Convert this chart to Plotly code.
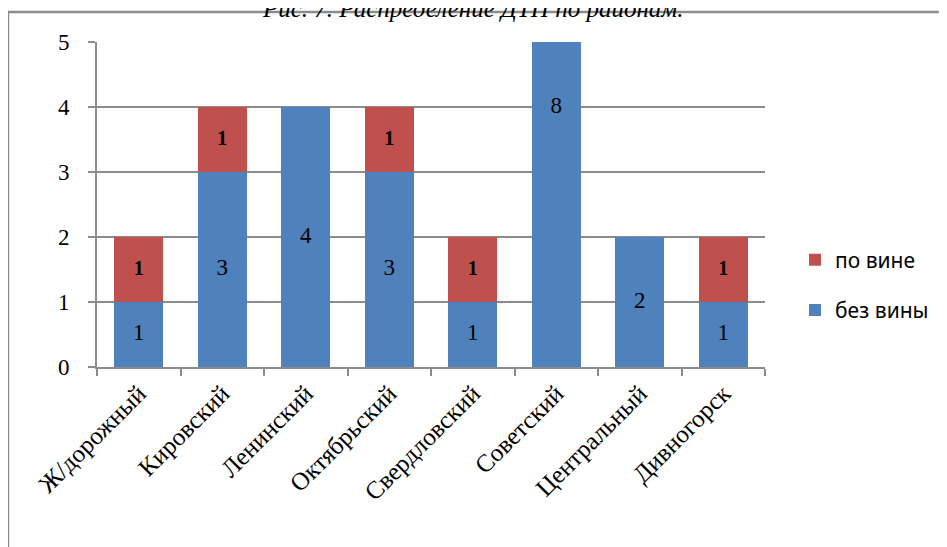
import plotly.graph_objects as go

categories = ["Ж/дорожный", "Кировский", "Ленинский", "Октябрьский",
              "Свердловский", "Советский", "Центральный", "Дивногорск"]
bez_viny = [1, 3, 4, 3, 1, 8, 2, 1]
po_vine = [1, 1, 0, 1, 1, 0, 0, 1]
y_ticks = [0, 1, 2, 3, 4, 5]
title_text = "Рис. 7. Распределение ДТП по районам."

BLUE = "#4F81BD"
RED = "#C0504D"
GRID = "#8C8C8C"
SERIF = "Liberation Serif, Times New Roman, serif"

OFF = 8  # page body margin
W, H = 947 - OFF, 547 - OFF
L, T = 97 - OFF, 42 - OFF
pw, ph = 668, 325
R, B = W - L - pw, H - T - ph

fig = go.Figure()
fig.add_trace(go.Bar(x=categories, y=bez_viny, name="без вины",
                     marker=dict(color=BLUE, line=dict(width=0)),
                     legendrank=2, legendgroup="b"))
fig.add_trace(go.Bar(x=categories, y=po_vine, name="по вине",
                     marker=dict(color=RED, line=dict(width=0)),
                     legendrank=1, legendgroup="a"))

# data labels
fig.add_trace(go.Scatter(
    x=categories, y=[v / 2 for v in bez_viny], mode="text",
    text=[str(v) if v else "" for v in bez_viny],
    textfont=dict(family=SERIF, size=23, color="black"),
    showlegend=False, hoverinfo="skip", cliponaxis=False))
fig.add_trace(go.Scatter(
    x=categories, y=[b + r / 2 for b, r in zip(bez_viny, po_vine)], mode="text",
    text=["<b>%d</b>" % r if r else "" for r in po_vine],
    textfont=dict(family=SERIF, size=20, color="black"),
    showlegend=False, hoverinfo="skip", cliponaxis=False))

# convert reference-screen pixels to paper coords
def px_x(x):
    return (x - OFF - L) / pw

def px_y(y):
    return (T + ph - (y - OFF)) / ph

fig.update_layout(
    width=W, height=H,
    margin=dict(l=L, r=R, t=T, b=B, pad=0),
    paper_bgcolor="white", plot_bgcolor="white",
    barmode="stack", bargap=0.41,
    showlegend=True,
    legend=dict(x=px_x(795), y=px_y(285), xanchor="left", yanchor="middle",
                traceorder="grouped", tracegroupgap=20,
                font=dict(family="Noto Sans, Open Sans, sans-serif", size=21, color="black"),
                itemwidth=30, bgcolor="rgba(0,0,0,0)"),
    xaxis=dict(type="category", showgrid=False, showline=True, linecolor=GRID, linewidth=2,
               ticks="outside", tickson="boundaries", ticklen=7, tickcolor=GRID, tickwidth=2,
               tickangle=-45, tickfont=dict(family=SERIF, size=25, color="black")),
    yaxis=dict(range=[0, 5], tickvals=y_ticks, showgrid=True, gridcolor=GRID, gridwidth=1.5,
               showline=True, linecolor=GRID, linewidth=2, zeroline=False,
               ticks="outside", ticklen=7, tickcolor=GRID, tickwidth=2,
               tickfont=dict(family=SERIF, size=23, color="black"), ticklabelstandoff=14),
    shapes=[
        dict(type="line", xref="paper", yref="paper", x0=px_x(8), x1=px_x(8),
             y0=px_y(12), y1=px_y(600), line=dict(color=GRID, width=2.5)),
        dict(type="line", xref="paper", yref="paper", x0=px_x(8), x1=px_x(1000),
             y0=px_y(12), y1=px_y(12), line=dict(color=GRID, width=2.5)),
    ],
    annotations=[dict(text="<i>" + title_text + "</i>", xref="paper", yref="paper",
                      x=px_x(473), y=px_y(9), xanchor="center", yanchor="middle",
                      showarrow=False,
                      font=dict(family=SERIF, size=25, color="black"))],
)

fig.write_html("out.html")
